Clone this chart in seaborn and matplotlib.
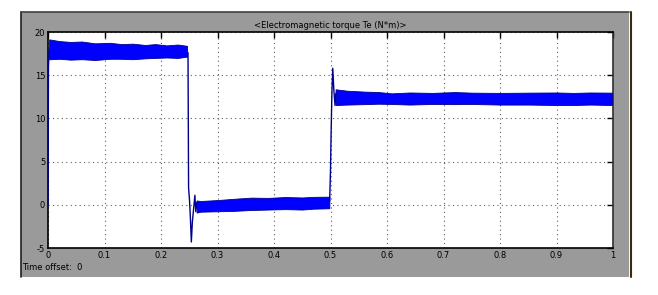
import numpy as np
import pandas as pd
import matplotlib
matplotlib.use("Agg")
import matplotlib.pyplot as plt
from matplotlib.patches import Rectangle
import seaborn as sns

# ---- data (envelopes of the noisy torque bands) ----
band1_t = [0.002, 0.02, 0.04, 0.06, 0.083, 0.11, 0.13, 0.15, 0.172, 0.19, 0.21, 0.23, 0.246]
band1_hi = [19.15, 18.95, 18.85, 18.9, 18.69, 18.75, 18.6, 18.65, 18.5, 18.6, 18.45, 18.55, 18.4]
band1_lo = [16.84, 16.9, 16.8, 16.85, 16.76, 16.9, 16.9, 16.85, 16.95, 17.0, 17.05, 17.0, 17.15]

band2_t = [0.263, 0.27, 0.30, 0.33, 0.36, 0.39, 0.42, 0.45, 0.47, 0.498]
band2_hi = [0.5, 0.44, 0.55, 0.7, 0.83, 0.8, 0.9, 0.85, 0.92, 0.94]
band2_lo = [-0.9, -0.8, -0.75, -0.7, -0.6, -0.55, -0.5, -0.55, -0.45, -0.4]

band3_t = [0.509, 0.53, 0.56, 0.585, 0.608, 0.64, 0.68, 0.72, 0.75, 0.8, 0.85, 0.9, 0.93, 0.96, 0.998]
band3_hi = [13.37, 13.2, 13.1, 13.05, 12.9, 13.0, 12.95, 13.05, 12.98, 12.95, 12.98, 13.0, 12.95, 13.0, 12.98]
band3_lo = [11.55, 11.6, 11.65, 11.7, 11.67, 11.6, 11.67, 11.65, 11.67, 11.6, 11.6, 11.55, 11.55, 11.6, 11.55]

trans0_t = [0.0, 0.0008, 0.002]
trans0_v = [0.0, 16.0, 18.0]
trans1_t = [0.2478, 0.2483, 0.2488, 0.2505, 0.2520, 0.2537, 0.2555, 0.2575, 0.2600, 0.2615, 0.2635]
trans1_v = [17.6, 10.0, 2.0, 0.5, -1.5, -4.3, -2.0, -0.6, 1.1, -0.8, 0.3]
trans2_t = [0.4985, 0.5000, 0.5010, 0.5025, 0.5040, 0.5060, 0.5080, 0.5095]
trans2_v = [0.4, 4.0, 8.0, 13.0, 15.8, 13.2, 11.5, 12.9]

x_ticks = [0, 0.1, 0.2, 0.3, 0.4, 0.5, 0.6, 0.7, 0.8, 0.9, 1]
x_labels = ["0", "0.1", "0.2", "0.3", "0.4", "0.5", "0.6", "0.7", "0.8", "0.9", "1"]
y_ticks = [-5, 0, 5, 10, 15, 20]
y_labels = ["-5", "0", "5", "10", "15", "20"]
title = "<Electromagnetic torque Te (N*m)>"

sns.set_style("white")
plt.rcParams['font.family'] = ['DejaVu Sans']

W, H = 658, 295
fig = plt.figure(figsize=(W / 100, H / 100), dpi=100)
fig.patch.set_facecolor("white")

def fx(px):
    return px / W

def fy(py):
    return 1 - py / H

# gray scope frame (drawn on a background axes)
bg = fig.add_axes([0, 0, 1, 1], zorder=-10)
bg.set_xlim(0, W)
bg.set_ylim(H, 0)
bg.axis("off")
bg.add_patch(Rectangle((21, 12), 608, 265, facecolor="#9a9a9a", edgecolor="none"))
bg.plot([20.5, 20.5], [12, 277], color="#202020", lw=1.2)
bg.plot([20.5, 629], [12, 12], color="#404040", lw=1.2)
bg.plot([630.5, 630.5], [12, 277], color="#3a2a10", lw=1.5)
bg.text(330.5, 25, title, ha="center", va="center", fontsize=6, color="black")
bg.text(22, 268, "Time offset:  0", ha="left", va="center", fontsize=6, color="black")

ax = fig.add_axes([fx(48), fy(248), fx(613) - fx(48), fy(32) - fy(248)], zorder=5)
ax.set_facecolor("white")

blue = "#0000FF"
navy = "#00008C"

for t, hi, lo in [(band1_t, band1_hi, band1_lo), (band2_t, band2_hi, band2_lo),
                  (band3_t, band3_hi, band3_lo)]:
    ax.fill_between(t, lo, hi, color=blue, edgecolor=navy, linewidth=0.6, zorder=3)

frames = []
for name, t, v in [("a", trans0_t, trans0_v), ("b", trans1_t, trans1_v), ("c", trans2_t, trans2_v)]:
    frames.append(pd.DataFrame({"t": t, "v": v, "seg": name}))
df = pd.concat(frames, ignore_index=True)
sns.lineplot(data=df, x="t", y="v", units="seg", estimator=None, sort=False,
             color=navy, linewidth=1.0, ax=ax, zorder=4, legend=False)

ax.set_xlim(0, 1)
ax.set_ylim(-5, 20)
ax.set_xticks(x_ticks)
ax.set_xticklabels(x_labels)
ax.set_yticks(y_ticks)
ax.set_yticklabels(y_labels)
ax.set_xlabel("")
ax.set_ylabel("")
ax.grid(True, linestyle=(0, (1, 3)), color="#556655", linewidth=0.8)
ax.tick_params(axis="both", direction="in", length=4, width=1, labelsize=6,
               colors="black", top=True, right=True, pad=2)
for s in ax.spines.values():
    s.set_color("black")
    s.set_linewidth(1.2)
ax.spines["right"].set_color("#303030")

fig.savefig("out.png", dpi=100)
